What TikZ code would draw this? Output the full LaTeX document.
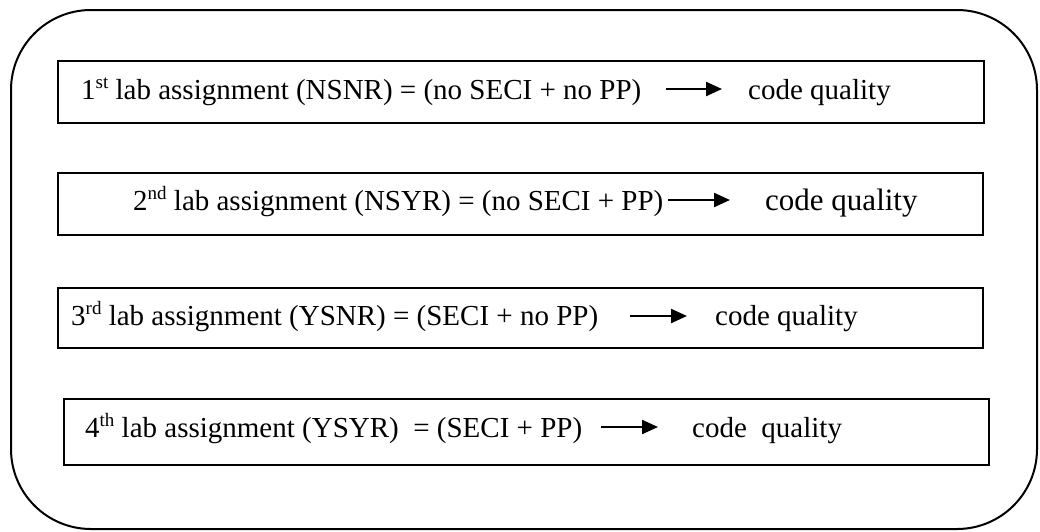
\documentclass[tikz,border=0pt]{standalone}
\usepackage{fontspec}
\setmainfont{Liberation Serif}
\usetikzlibrary{arrows.meta}

% ordinal suffix, set small and raised to the top of the digit
\newcommand\ordsfx[1]{\raisebox{11pt}{\fontsize{19}{19}\selectfont #1}}

\tikzset{
  frame/.style={draw, line width=2pt, rounded corners=80pt},
  stagebox/.style={draw, line width=1.6pt, rectangle, inner sep=0pt},
  lhs/.style={anchor=base west, inner sep=0pt, font=\fontsize{29}{34}\selectfont},
  rhs/.style={anchor=base west, inner sep=0pt, font=\fontsize{29}{34}\selectfont},
  leadsto/.style={line width=2.3pt, -{Triangle[length=16pt,width=14pt]}},
}

\begin{document}
\begin{tikzpicture}[x=1pt, y=-1pt]
  \useasboundingbox (0,0) rectangle (1040,531);

  % outer rounded frame
  \draw[frame] (11,10) rectangle (1037,529);

  % the four assignment boxes
  \node[stagebox, minimum width=926pt, minimum height=62pt] (b1) at (521,92) {};
  \node[stagebox, minimum width=925pt, minimum height=62pt] (b2) at (520.5,204) {};
  \node[stagebox, minimum width=925pt, minimum height=60pt] (b3) at (520.5,318) {};
  \node[stagebox, minimum width=925pt, minimum height=66pt] (b4) at (526.5,432) {};

  % first assignment
  \node[lhs] (l1) at (81,99) {1\ordsfx{st} lab assignment (NSNR) = (no SECI + no PP)};
  \node[rhs] (q1) at (748,99) {code quality};
  \coordinate (s1) at (666,89);
  \coordinate (e1) at (722,89);
  \draw[leadsto] (s1) -- (e1);

  % second assignment
  \node[lhs] (l2) at (133,210) {2\ordsfx{nd} lab assignment (NSYR) = (no SECI + PP)};
  \node[rhs, font=\fontsize{31}{36}\selectfont] (q2) at (765,210) {code quality};
  \coordinate (s2) at (668,200);
  \coordinate (e2) at (730,200);
  \draw[leadsto] (s2) -- (e2);

  % third assignment
  \node[lhs] (l3) at (71,325) {3\ordsfx{rd} lab assignment (YSNR) = (SECI + no PP)};
  \node[rhs] (q3) at (715,325) {code quality};
  \coordinate (s3) at (630,316);
  \coordinate (e3) at (687,316);
  \draw[leadsto] (s3) -- (e3);

  % fourth assignment
  \node[lhs] (l4) at (85,437) {4\ordsfx{th} lab assignment (YSYR) \ = (SECI + PP)};
  \node[rhs] (q4) at (692,437) {code \ quality};
  \coordinate (s4) at (601,427);
  \coordinate (e4) at (658,427);
  \draw[leadsto] (s4) -- (e4);
\end{tikzpicture}
\end{document}
